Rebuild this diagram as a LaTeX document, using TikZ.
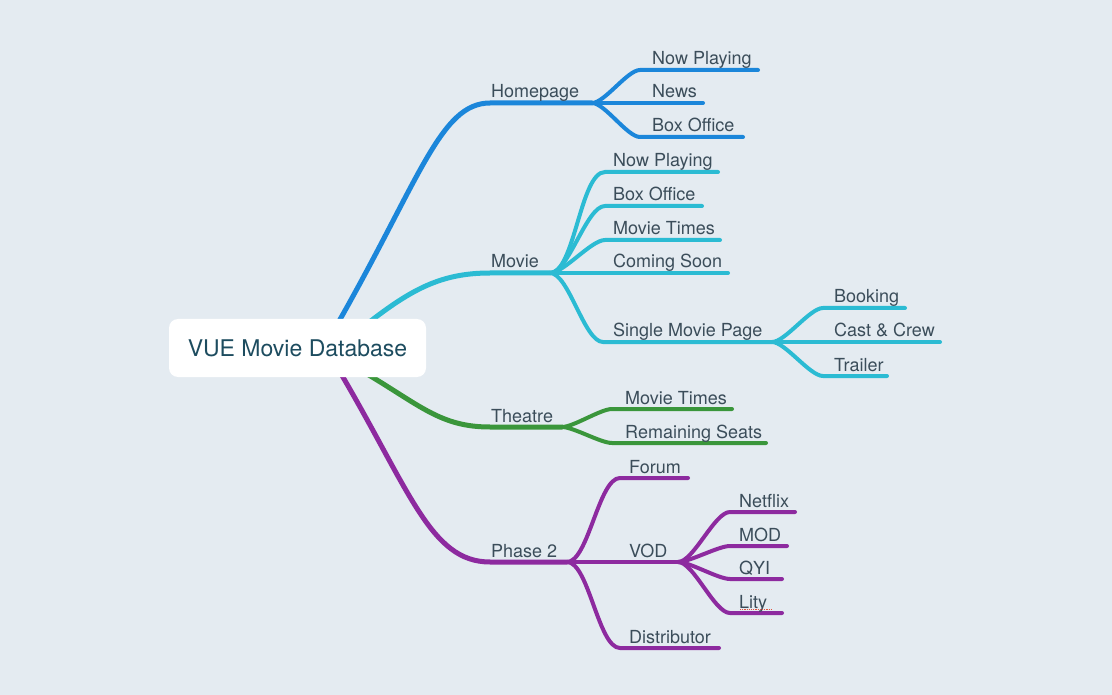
\documentclass[tikz,border=0pt]{standalone}
\usepackage{fontspec}
\setmainfont{TeX Gyre Heros}
\definecolor{bg}{HTML}{E4EBF1}
\definecolor{cblue}{HTML}{1B86DA}
\definecolor{ccyan}{HTML}{2BBBD3}
\definecolor{cgreen}{HTML}{3A963B}
\definecolor{cpurple}{HTML}{8D2A9F}
\definecolor{ctext}{HTML}{3B4D5A}
\definecolor{croot}{HTML}{1D4C5F}
\definecolor{cspell}{HTML}{E0503C}
\begin{document}
\begin{tikzpicture}[x=1pt,y=-1pt,
  mainln/.style={line width=5pt,line cap=round},
  subln/.style={line width=4pt,line cap=round},
  lbl/.style={anchor=base west,inner sep=0pt,text=ctext,font=\fontsize{18}{20}\selectfont},
  rootbox/.style={fill=white,rounded corners=9pt,minimum width=257pt,minimum height=58pt,
    text=croot,font=\fontsize{23}{26}\selectfont,inner sep=0pt},
  kid/.style={out=0,in=180,looseness=0.55}]
\fill[bg] (0,0) rectangle (1112,695);
\useasboundingbox (0,0) rectangle (1112,695);

% ---------- level 1 coordinates
\coordinate (hpS) at (334,330);
\coordinate (hpH) at (490,103);
\coordinate (hpF) at (592,103);
\coordinate (mvS) at (363,327);
\coordinate (mvH) at (490,273);
\coordinate (mvF) at (550,273);
\coordinate (thS) at (362,371);
\coordinate (thH) at (490,427);
\coordinate (thF) at (562,427);
\coordinate (p2S) at (337,367);
\coordinate (p2H) at (490,562);
\coordinate (p2F) at (567,562);

% ---------- level 1 branches
\draw[mainln,cblue] (hpS) .. controls (420,180) and (440,103) .. (hpH) -- (hpF);
\draw[mainln,ccyan] (mvS) .. controls (410,290) and (440,273) .. (mvH) -- (mvF);
\draw[mainln,cgreen] (thS) .. controls (420,405) and (440,427) .. (thH) -- (thF);
\draw[mainln,cpurple] (p2S) .. controls (410,490) and (430,562) .. (p2H) -- (p2F);

% ---------- Homepage children
\coordinate (hp1s) at (640,70);  \coordinate (hp1e) at (758,70);
\coordinate (hp2e) at (703,103);
\coordinate (hp3s) at (640,137); \coordinate (hp3e) at (743,137);
\draw[subln,cblue] (hpF) to[kid] (hp1s) -- (hp1e);
\draw[subln,cblue] (hpF) -- (hp2e);
\draw[subln,cblue] (hpF) to[kid] (hp3s) -- (hp3e);

% ---------- Movie children
\coordinate (mv1s) at (605,172); \coordinate (mv1e) at (718,172);
\coordinate (mv2s) at (605,206); \coordinate (mv2e) at (702,206);
\coordinate (mv3s) at (605,240); \coordinate (mv3e) at (720,240);
\coordinate (mv4e) at (728,273);
\coordinate (mv5s) at (603,342); \coordinate (smF) at (772,342);
\draw[subln,ccyan] (mvF) to[kid] (mv1s) -- (mv1e);
\draw[subln,ccyan] (mvF) to[kid] (mv2s) -- (mv2e);
\draw[subln,ccyan] (mvF) to[kid] (mv3s) -- (mv3e);
\draw[subln,ccyan] (mvF) -- (mv4e);
\draw[subln,ccyan] (mvF) to[kid] (mv5s) -- (smF);

% ---------- Single Movie Page children
\coordinate (sm1s) at (823,308); \coordinate (sm1e) at (905,308);
\coordinate (sm2e) at (940,342);
\coordinate (sm3s) at (823,376); \coordinate (sm3e) at (887,376);
\draw[subln,ccyan] (smF) to[kid] (sm1s) -- (sm1e);
\draw[subln,ccyan] (smF) -- (sm2e);
\draw[subln,ccyan] (smF) to[kid] (sm3s) -- (sm3e);

% ---------- Theatre children
\coordinate (th1s) at (612,409); \coordinate (th1e) at (732,409);
\coordinate (th2s) at (612,443); \coordinate (th2e) at (766,443);
\draw[subln,cgreen] (thF) to[kid] (th1s) -- (th1e);
\draw[subln,cgreen] (thF) to[kid] (th2s) -- (th2e);

% ---------- Phase 2 children
\coordinate (p21s) at (620,478); \coordinate (p21e) at (688,478);
\coordinate (vdF) at (678,562);
\coordinate (p23s) at (620,648); \coordinate (p23e) at (719,648);
\draw[subln,cpurple] (p2F) to[kid] (p21s) -- (p21e);
\draw[subln,cpurple] (p2F) -- (vdF);
\draw[subln,cpurple] (p2F) to[kid] (p23s) -- (p23e);

% ---------- VOD children
\coordinate (vd1s) at (730,512); \coordinate (vd1e) at (795,512);
\coordinate (vd2s) at (730,546); \coordinate (vd2e) at (787,546);
\coordinate (vd3s) at (730,579); \coordinate (vd3e) at (782,579);
\coordinate (vd4s) at (730,613); \coordinate (vd4e) at (782,613);
\draw[subln,cpurple] (vdF) to[kid] (vd1s) -- (vd1e);
\draw[subln,cpurple] (vdF) to[kid] (vd2s) -- (vd2e);
\draw[subln,cpurple] (vdF) to[kid] (vd3s) -- (vd3e);
\draw[subln,cpurple] (vdF) to[kid] (vd4s) -- (vd4e);

% ---------- root
\node[rootbox] (root) at (297.5,348) {VUE Movie Database};

% ---------- labels
\node[lbl] (tHome) at (491,98) {Homepage};
\node[lbl] (tMovie) at (491,268) {Movie};
\node[lbl] (tTheatre) at (491,422) {Theatre};
\node[lbl] (tPhase) at (491,557) {Phase 2};

\node[lbl] (tHp1) at (652,65) {Now Playing};
\node[lbl] (tHp2) at (652,98) {News};
\node[lbl] (tHp3) at (652,132) {Box Office};

\node[lbl] (tMv1) at (613,167) {Now Playing};
\node[lbl] (tMv2) at (613,201) {Box Office};
\node[lbl] (tMv3) at (613,235) {Movie Times};
\node[lbl] (tMv4) at (613,268) {Coming Soon};
\node[lbl] (tMv5) at (613,337) {Single Movie Page};

\node[lbl] (tSm1) at (834,303) {Booking};
\node[lbl] (tSm2) at (834,337) {Cast \& Crew};
\node[lbl] (tSm3) at (834,371) {Trailer};

\node[lbl] (tTh1) at (625,404) {Movie Times};
\node[lbl] (tTh2) at (625,438) {Remaining Seats};

\node[lbl] (tP21) at (629,473) {Forum};
\node[lbl] (tP22) at (629,557) {VOD};
\node[lbl] (tP23) at (629,643) {Distributor};

\node[lbl] (tVd1) at (739,507) {Netflix};
\node[lbl] (tVd2) at (739,541) {MOD};
\node[lbl] (tVd3) at (739,574) {QYI};
\node[lbl] (tVd4) at (739,608) {Lity};

% spell-check underline under "Lity"
\coordinate (spA) at (740,609.5);
\coordinate (spB) at (771,609.5);
\draw[cspell,line width=1.4pt,dash pattern=on 1.2pt off 1pt] (spA) -- (spB);
\end{tikzpicture}
\end{document}
